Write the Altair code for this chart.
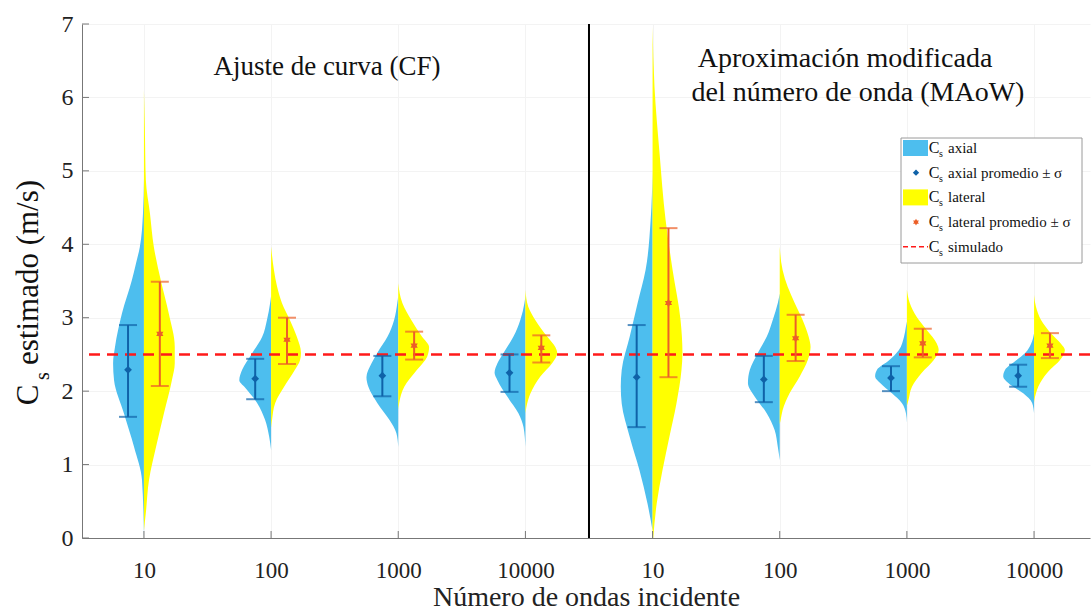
import altair as alt
import pandas as pd

# ---------------- data ----------------
categorias = ["10", "100", "1000", "10000", "10", "100", "1000", "10000"]
posiciones = [1, 2, 3, 4, 5, 6, 7, 8]

axial_media = [2.29, 2.17, 2.21, 2.25, 2.19, 2.16, 2.18, 2.21]
axial_inf = [1.65, 1.89, 1.93, 1.99, 1.51, 1.85, 2.00, 2.06]
axial_sup = [2.90, 2.44, 2.48, 2.50, 2.90, 2.48, 2.34, 2.36]

lateral_media = [2.78, 2.70, 2.62, 2.59, 3.20, 2.72, 2.65, 2.62]
lateral_inf = [2.07, 2.37, 2.43, 2.39, 2.19, 2.41, 2.46, 2.45]
lateral_sup = [3.49, 3.00, 2.81, 2.76, 4.22, 3.04, 2.85, 2.79]

cs_simulado = 2.5

axial_v = [
    [0.0, 0.79, 1.24, 1.70, 2.15, 2.38, 2.60, 3.06, 3.51, 3.74, 3.96, 4.42, 4.90],
    [1.20, 1.38, 1.61, 1.84, 2.06, 2.15, 2.29, 2.52, 2.74, 2.97, 3.20, 3.30],
    [1.24, 1.43, 1.61, 1.84, 2.06, 2.19, 2.38, 2.52, 2.74, 2.97, 3.20, 3.30],
    [1.24, 1.51, 1.70, 1.92, 2.15, 2.25, 2.38, 2.52, 2.74, 2.97, 3.20, 3.30],
    [0.10, 0.47, 0.92, 1.38, 1.83, 2.06, 2.29, 2.74, 3.20, 3.65, 4.33, 5.00],
    [1.06, 1.24, 1.47, 1.70, 1.92, 2.11, 2.29, 2.52, 2.74, 2.97, 3.20, 3.33],
    [1.57, 1.70, 1.84, 1.97, 2.11, 2.20, 2.29, 2.42, 2.56, 2.74, 2.88, 2.95],
    [1.70, 1.84, 1.97, 2.11, 2.20, 2.29, 2.42, 2.52, 2.65, 2.79],
]
axial_d = [
    [0, 0.06, 0.31, 0.63, 0.94, 0.97, 0.91, 0.69, 0.38, 0.25, 0.13, 0.03, 0],
    [0, 0.06, 0.19, 0.44, 0.84, 1.0, 0.91, 0.59, 0.28, 0.13, 0.03, 0],
    [0, 0.06, 0.28, 0.66, 0.94, 1.0, 0.84, 0.66, 0.34, 0.13, 0.03, 0],
    [0, 0.06, 0.22, 0.56, 0.88, 0.97, 0.88, 0.69, 0.38, 0.16, 0.03, 0],
    [0, 0.16, 0.41, 0.72, 0.97, 1.0, 0.97, 0.72, 0.47, 0.22, 0.06, 0],
    [0, 0.06, 0.16, 0.41, 0.78, 1.0, 0.94, 0.69, 0.41, 0.22, 0.06, 0],
    [0, 0.03, 0.16, 0.47, 0.84, 1.0, 0.94, 0.56, 0.25, 0.09, 0.03, 0],
    [0, 0.06, 0.34, 0.81, 0.97, 0.91, 0.56, 0.28, 0.09, 0],
]
lateral_v = [
    [0.10, 0.34, 0.79, 1.24, 1.70, 2.15, 2.38, 2.60, 3.06, 3.51, 3.97, 4.42, 4.88, 5.56, 6.10],
    [1.50, 1.61, 1.84, 2.06, 2.29, 2.42, 2.52, 2.74, 2.97, 3.20, 3.42, 3.65, 3.97],
    [1.75, 1.84, 2.06, 2.29, 2.47, 2.60, 2.74, 2.97, 3.20, 3.47],
    [1.70, 1.78, 1.97, 2.20, 2.38, 2.52, 2.60, 2.74, 2.97, 3.15, 3.38],
    [0.0, 0.47, 0.92, 1.38, 1.83, 2.29, 2.52, 2.97, 3.65, 4.33, 5.24, 6.15, 6.96],
    [1.55, 1.61, 1.74, 1.97, 2.20, 2.42, 2.60, 2.74, 2.97, 3.20, 3.42, 3.65, 3.97],
    [1.80, 1.88, 2.06, 2.25, 2.42, 2.56, 2.65, 2.83, 3.01, 3.20, 3.38],
    [1.85, 1.92, 2.11, 2.29, 2.42, 2.56, 2.65, 2.79, 2.97, 3.15, 3.31],
]
lateral_d = [
    [0, 0.06, 0.16, 0.38, 0.63, 0.88, 0.97, 0.97, 0.78, 0.53, 0.31, 0.19, 0.06, 0.03, 0],
    [0, 0.03, 0.13, 0.41, 0.75, 0.91, 0.94, 0.81, 0.59, 0.34, 0.19, 0.09, 0],
    [0, 0.03, 0.19, 0.59, 0.91, 0.97, 0.75, 0.41, 0.13, 0],
    [0, 0.03, 0.16, 0.47, 0.84, 1.0, 0.94, 0.69, 0.31, 0.09, 0],
    [0.02, 0.13, 0.31, 0.53, 0.75, 0.91, 0.94, 0.88, 0.63, 0.41, 0.22, 0.06, 0],
    [0, 0.03, 0.09, 0.31, 0.63, 0.88, 0.97, 0.91, 0.72, 0.47, 0.25, 0.09, 0],
    [0, 0.05, 0.16, 0.47, 0.84, 1.0, 0.94, 0.63, 0.31, 0.09, 0],
    [0, 0.03, 0.19, 0.5, 0.81, 0.97, 0.84, 0.53, 0.22, 0.06, 0],
]

titulo_cf = "Ajuste de curva (CF)"
titulo_maow_1 = "Aproximación modificada"
titulo_maow_2 = "del número de onda (MAoW)"
titulo_x = "Número de ondas incidente"
titulo_y = "estimado (m/s)"
leyenda = ["axial", "axial promedio ± σ", "lateral", "lateral promedio ± σ", "simulado"]

# ---------------- styles ----------------
FONT = "Liberation Serif"
AZUL = "#4DBEEE"
AMARILLO = "#FFFF00"
AZUL_OSC = "#0F62A8"
NARANJA = "#EC5F28"
ROJO = "#FF1A1A"
HALF = 0.25
OFF = 0.125

rows = []
for i, p in enumerate(posiciones):
    for v, d in zip(axial_v[i], axial_d[i]):
        rows.append({"grp": f"a{i}", "lado": "axial", "v": v, "xc": p, "xe": p - HALF * d})
    for v, d in zip(lateral_v[i], lateral_d[i]):
        rows.append({"grp": f"l{i}", "lado": "lateral", "v": v, "xc": p, "xe": p + HALF * d})
viol = pd.DataFrame(rows)

err = pd.DataFrame({
    "pos": posiciones,
    "xa": [p - OFF for p in posiciones],
    "xl": [p + OFF for p in posiciones],
    "am": axial_media, "ai": axial_inf, "as": axial_sup,
    "lm": lateral_media, "li": lateral_inf, "ls": lateral_sup,
})

xscale = alt.Scale(domain=[0.513, 8.44], nice=False, zero=False)
yscale = alt.Scale(domain=[0, 7], nice=False, zero=True)
label_expr = "[" + ",".join(f"'{c}'" for c in categorias) + "][datum.value-1]"
xaxis = alt.Axis(values=posiciones, labelExpr=label_expr, title=titulo_x, ticks=False,
                 grid=True, gridColor="#f3f3f3", domainColor="#777777", domainWidth=1,
                 labelFont=FONT, labelFontSize=23, labelColor="#222222", labelPadding=21,
                 titleFont=FONT, titleFontSize=28, titleFontWeight="normal", titleColor="#222222",
                 titleBaseline="alphabetic", titleY=67)
yaxis = alt.Axis(values=list(range(8)), title=None, ticks=False, grid=True, gridColor="#f3f3f3",
                 domainColor="#777777", domainWidth=1, labelFont=FONT, labelFontSize=24,
                 labelColor="#222222", labelPadding=9)


def X(f):
    return alt.X(f, type="quantitative", scale=xscale, axis=xaxis)


def Y(f):
    return alt.Y(f, type="quantitative", scale=yscale, axis=yaxis)


one = pd.DataFrame({"k": [0]})

violin_a = alt.Chart(viol[viol.lado == "axial"]).mark_area(
    orient="horizontal", color=AZUL, interpolate="monotone"
).encode(y=Y("v"), x=X("xc"), x2="xe", detail="grp:N")
violin_l = alt.Chart(viol[viol.lado == "lateral"]).mark_area(
    orient="horizontal", color=AMARILLO, interpolate="monotone"
).encode(y=Y("v"), x=X("xc"), x2="xe", detail="grp:N")

yticks = alt.Chart(pd.DataFrame({"t": list(range(8))})).mark_rule(color="#777777").encode(
    y=Y("t"), x=alt.value(0), x2=alt.value(7))
xticks = alt.Chart(pd.DataFrame({"t": posiciones})).mark_rule(color="#777777").encode(
    x=X("t"), y=alt.value(514), y2=alt.value(507))

simulado = alt.Chart(pd.DataFrame({"v": [cs_simulado]})).mark_rule(
    color=ROJO, strokeDash=[11, 7], strokeWidth=2.6).encode(y=Y("v"))

separador = alt.Chart(pd.DataFrame({"s": [4.5]})).mark_rule(color="black", strokeWidth=2).encode(
    x=X("s"))

eb = alt.Chart(err)
bar_a = eb.mark_rule(color=AZUL_OSC, strokeWidth=2).encode(x=X("xa"), y=Y("ai"), y2="as")
cap_a1 = eb.mark_tick(color=AZUL_OSC, orient="horizontal", size=18, thickness=2).encode(x=X("xa"), y=Y("ai"))
cap_a2 = eb.mark_tick(color=AZUL_OSC, orient="horizontal", size=18, thickness=2).encode(x=X("xa"), y=Y("as"))
mean_a = eb.mark_point(shape="diamond", filled=True, size=60, color=AZUL_OSC, opacity=1).encode(x=X("xa"), y=Y("am"))

STAR = "M0,-1L0.866,0.5L-0.866,0.5Z M0,1L-0.866,-0.5L0.866,-0.5Z"
bar_l = eb.mark_rule(color=NARANJA, strokeWidth=2).encode(x=X("xl"), y=Y("li"), y2="ls")
cap_l1 = eb.mark_tick(color=NARANJA, orient="horizontal", size=18, thickness=2).encode(x=X("xl"), y=Y("li"))
cap_l2 = eb.mark_tick(color=NARANJA, orient="horizontal", size=18, thickness=2).encode(x=X("xl"), y=Y("ls"))
mean_l = eb.mark_point(shape=STAR, filled=True, size=70, color=NARANJA, opacity=1).encode(x=X("xl"), y=Y("lm"))


def txt(t, x, y, size, align="center", angle=0, baseline="middle"):
    kw = dict(text=t, font=FONT, fontSize=size, color="#111111", align=align, baseline=baseline)
    if angle:
        kw["angle"] = angle
    return alt.Chart(one).mark_text(**kw).encode(x=alt.value(x), y=alt.value(y))


titulos = [
    txt(titulo_cf, 245, 43, 27),
    txt(titulo_maow_1, 763, 35, 28),
    txt(titulo_maow_2, 776, 69, 28),
    txt("C", -53, 371, 31, angle=270),
    txt("s", -39, 352, 20, angle=270),
    txt(titulo_y, -53, 341, 31, align="left", angle=270),
]

leg = [alt.Chart(one).mark_rect(fill="white", stroke="#9a9a9a", strokeWidth=1).encode(
    x=alt.value(819), x2=alt.value(1000), y=alt.value(114), y2=alt.value(239))]
for i, lab in enumerate(leyenda):
    yy = 124 + 24.7 * i
    if i == 0 or i == 2:
        leg.append(alt.Chart(one).mark_rect(color=AZUL if i == 0 else AMARILLO).encode(
            x=alt.value(821), x2=alt.value(846), y=alt.value(yy - 8), y2=alt.value(yy + 8)))
    elif i == 1:
        leg.append(alt.Chart(one).mark_point(shape="diamond", filled=True, size=40, color=AZUL_OSC, opacity=1).encode(
            x=alt.value(834), y=alt.value(yy)))
    elif i == 3:
        leg.append(alt.Chart(one).mark_point(shape=STAR, filled=True, size=45, color=NARANJA, opacity=1).encode(
            x=alt.value(834), y=alt.value(yy)))
    else:
        leg.append(alt.Chart(one).mark_rule(color=ROJO, strokeDash=[5, 3], strokeWidth=1.6).encode(
            x=alt.value(821), x2=alt.value(846), y=alt.value(yy), y2=alt.value(yy)))
    leg.append(txt("C", 852, yy, 16))
    leg.append(txt("s", 859, yy + 6, 10))
    leg.append(txt(lab, 866, yy, 15, align="left"))

chart = alt.layer(
    violin_a, violin_l, yticks, xticks, simulado, separador,
    bar_a, cap_a1, cap_a2, mean_a, bar_l, cap_l1, cap_l2, mean_l,
    *titulos, *leg
).properties(
    width=1008, height=514,
    padding={"left": 82, "top": 24, "right": 2, "bottom": 72},
    autosize=alt.AutoSizeParams(type="none"),
    background="white",
).configure_view(stroke=None)

chart.save("out.html", embed_options={"renderer": "svg", "actions": False})
